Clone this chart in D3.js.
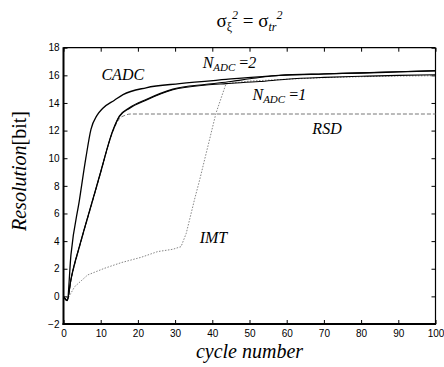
<!DOCTYPE html>
<html><head><meta charset="utf-8">
<script src="https://cdn.jsdelivr.net/npm/d3@7"></script>
<style>body{margin:0;background:#fff}svg{display:block}</style>
</head><body>
<script>
const xTicks = [0,10,20,30,40,50,60,70,80,90,100];
const yTicks = [-2,0,2,4,6,8,10,12,14,16,18];

const cadcX = [0, 1, 2, 4.3, 6, 7.4, 9, 10.5, 13.7, 16, 22.2, 31.2, 43.7, 58, 70, 80, 90, 100];
const cadcY = [0, -0.3, 3.0, 7.0, 10.0, 12.1, 13.1, 13.6, 14.2, 14.6, 15.1, 15.4, 15.7, 16.0, 16.1, 16.17, 16.25, 16.33];

const n1X = [0, 1, 2, 4.5, 7.9, 9.7, 13.3, 15, 17.7, 22.2, 29.4, 38.4, 43.7, 52.7, 60, 70, 80, 90, 100];
const n1Y = [0, -0.3, 1.2, 3.8, 7.0, 8.7, 12.0, 13.0, 13.6, 14.2, 14.95, 15.3, 15.4, 15.55, 15.72, 15.85, 15.93, 16.0, 16.04];

const n2X = [0, 1, 2, 4.5, 7.9, 9.7, 13.3, 15, 17.7, 22.2, 29.4, 38.4, 45, 50, 55, 60, 70, 80, 90, 100];
const n2Y = [0, -0.3, 1.25, 3.85, 7.05, 8.75, 12.05, 13.05, 13.65, 14.25, 15.0, 15.35, 15.55, 15.75, 15.92, 16.02, 16.1, 16.18, 16.26, 16.33];

const imtX = [0, 1.2, 3, 6.5, 11, 15.5, 20.9, 25.3, 29.4, 31.6, 33, 35.2, 36.6, 41, 43.7, 50, 60, 70, 80, 90, 100];
const imtY = [0, -0.14, 0.7, 1.55, 2.03, 2.44, 2.83, 3.24, 3.41, 3.6, 4.57, 6.99, 8.43, 13.27, 15.4, 15.58, 15.72, 15.83, 15.9, 15.95, 15.97];

const rsdX = [0, 1, 2, 4.5, 7.9, 9.7, 13.3, 15, 16.5, 18, 20, 100];
const rsdY = [0, -0.3, 1.15, 3.75, 6.95, 8.65, 11.95, 12.85, 13.1, 13.2, 13.2, 13.2];

const W = 444, H = 367;
const svg = d3.select("body").append("svg").attr("width", W).attr("height", H);
const x = d3.scaleLinear().domain([0,100]).range([63.5, 435.5]);
const y = d3.scaleLinear().domain([-2,18]).range([324, 47.7]);
const serif = "'Liberation Serif','Times New Roman',serif";
const sans = "'Liberation Sans',Arial,sans-serif";

// ticks (inward, mirrored)
const tl = 4;
const gB = svg.append("g").attr("transform", `translate(0,${y(-2)})`)
  .call(d3.axisBottom(x).tickValues(xTicks).tickSizeInner(-tl).tickSizeOuter(0).tickPadding(6));
const gT = svg.append("g").attr("transform", `translate(0,${y(18)})`)
  .call(d3.axisTop(x).tickValues(xTicks).tickSizeInner(-tl).tickSizeOuter(0).tickFormat(""));
const gL = svg.append("g").attr("transform", `translate(${x(0)},0)`)
  .call(d3.axisLeft(y).tickValues(yTicks).tickSizeInner(-tl).tickSizeOuter(0).tickPadding(4));
const gR = svg.append("g").attr("transform", `translate(${x(100)},0)`)
  .call(d3.axisRight(y).tickValues(yTicks).tickSizeInner(-tl).tickSizeOuter(0).tickFormat(""));
[gB,gT,gL,gR].forEach(g => {
  g.select(".domain").remove();
  g.selectAll("line").attr("stroke","#000").attr("stroke-width",1);
  g.selectAll("text").attr("font-family", sans).attr("font-size", 10).attr("fill","#000");
});

// frame
svg.append("line").attr("x1",x(0)).attr("x2",x(100)).attr("y1",y(18)).attr("y2",y(18)).attr("stroke","#000").attr("stroke-width",1.2);
svg.append("line").attr("x1",x(100)).attr("x2",x(100)).attr("y1",y(18)).attr("y2",y(-2)).attr("stroke","#000").attr("stroke-width",1.2);
svg.append("line").attr("x1",x(0)).attr("x2",x(0)).attr("y1",y(18)-0.5).attr("y2",y(-2)+1).attr("stroke","#000").attr("stroke-width",2);
svg.append("line").attr("x1",x(0)-1).attr("x2",x(100)+0.6).attr("y1",y(-2)).attr("y2",y(-2)).attr("stroke","#000").attr("stroke-width",2);

function draw(xs, ys, curve, stroke, width, dash) {
  const data = xs.map((v,i) => [v, ys[i]]);
  svg.append("path").datum(data)
    .attr("d", d3.line().x(d => x(d[0])).y(d => y(d[1])).curve(curve))
    .attr("fill","none").attr("stroke",stroke).attr("stroke-width",width)
    .attr("stroke-dasharray", dash || null);
}
draw(rsdX, rsdY, d3.curveMonotoneX, "#777", 1, "4,2");
draw(imtX, imtY, d3.curveLinear, "#777", 0.9, "1.5,1.5");
draw(n1X, n1Y, d3.curveMonotoneX, "#000", 1.1);
draw(n2X, n2Y, d3.curveMonotoneX, "#000", 1.1);
draw(cadcX, cadcY, d3.curveMonotoneX, "#000", 1.3);

// annotations
function label(xv, yv) {
  return svg.append("text").attr("x", x(xv)).attr("y", y(yv))
    .attr("font-family", serif).attr("font-style","italic").attr("font-size",16).attr("fill","#000");
}
label(10.2, 15.68).text("CADC");
label(66.9, 11.77).text("RSD");
label(36.6, 3.87).text("IMT");
const n2 = label(37.4, 16.55);
n2.append("tspan").text("N");
n2.append("tspan").attr("font-size",11).attr("dy",3).text("ADC");
n2.append("tspan").attr("dy",-3).attr("font-style","normal").text(" =");
n2.append("tspan").text("2");
const n1 = label(50.8, 14.23);
n1.append("tspan").text("N");
n1.append("tspan").attr("font-size",11).attr("dy",3).text("ADC");
n1.append("tspan").attr("dy",-3).attr("font-style","normal").text(" =");
n1.append("tspan").text("1");

// title
const t = svg.append("text").attr("x", x(50)).attr("y", 27).attr("text-anchor","middle")
  .attr("font-family", serif).attr("font-size", 19).attr("fill","#000");
t.append("tspan").text("σ");
t.append("tspan").attr("font-size",12).attr("dy",4).text("ξ");
t.append("tspan").attr("font-size",12).attr("font-style","italic").attr("dy",-12).text("2");
t.append("tspan").attr("dy",8).text(" = σ");
t.append("tspan").attr("font-size",12).attr("font-style","italic").attr("dy",4).text("tr");
t.append("tspan").attr("font-size",12).attr("font-style","italic").attr("dy",-12).text("2");

// axis titles
svg.append("text").attr("x", x(50)).attr("y", 358).attr("text-anchor","middle")
  .attr("font-family", serif).attr("font-style","italic").attr("font-size",20).attr("fill","#000")
  .text("cycle number");
const yl = svg.append("text").attr("transform","translate(26,171) rotate(-90)").attr("text-anchor","middle")
  .attr("font-family", serif).attr("font-size",20).attr("fill","#000");
yl.append("tspan").attr("font-style","italic").text("Resolution");
yl.append("tspan").text("[bit]");
</script>
</body></html>
